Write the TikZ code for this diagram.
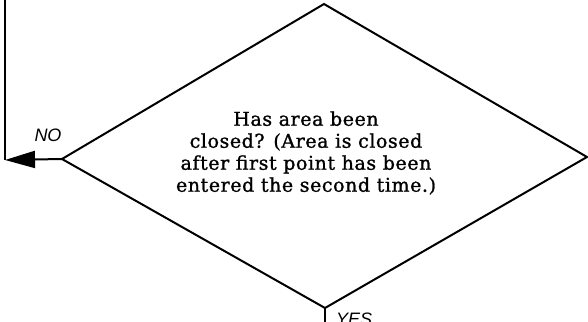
\documentclass[tikz,border=0pt]{standalone}
\usepackage{fontspec}
\setmainfont{DejaVu Serif}
\newfontfamily\questionfont{DejaVu Serif}[FakeBold=1.2, LetterSpace=3]
\newfontfamily\labelfont{Liberation Sans}
\usetikzlibrary{arrows.meta}
\begin{document}
\begin{tikzpicture}[x=1pt,y=-1pt,
  flow/.style={line width=2pt, line join=miter},
  branch/.style={font=\labelfont\itshape\fontsize{18}{18}\selectfont, inner sep=0pt},
  question/.style={font=\questionfont\fontsize{19}{22}\selectfont, align=center, inner sep=0pt}]
  \useasboundingbox (0,0) rectangle (588,321);
  % decision diamond
  \coordinate (top) at (324,4);
  \coordinate (right) at (587,157);
  \coordinate (bottom) at (325,308);
  \coordinate (left) at (62,159);
  \draw[flow] (top) -- (right) -- (bottom) -- (left) -- cycle;
  \node[question] (q) at (306,153) {Has area been\\closed? (Area is closed\\after first point has been\\entered the second time.)};
  % NO branch: back up the left side
  \coordinate (corner) at (5,160);
  \coordinate (up) at (5,-2);
  \draw[flow] (up) -- (corner);
  \draw[flow, -{Triangle[length=30pt,width=17pt]}] (left) -- (corner);
  \node[branch] (no) at (48,135) {NO};
  % YES branch: down from the bottom vertex
  \coordinate (down) at (325,325);
  \draw[flow] (bottom) -- (down);
  \node[branch, anchor=north west] (yes) at (336,313) {YES};
\end{tikzpicture}
\end{document}
